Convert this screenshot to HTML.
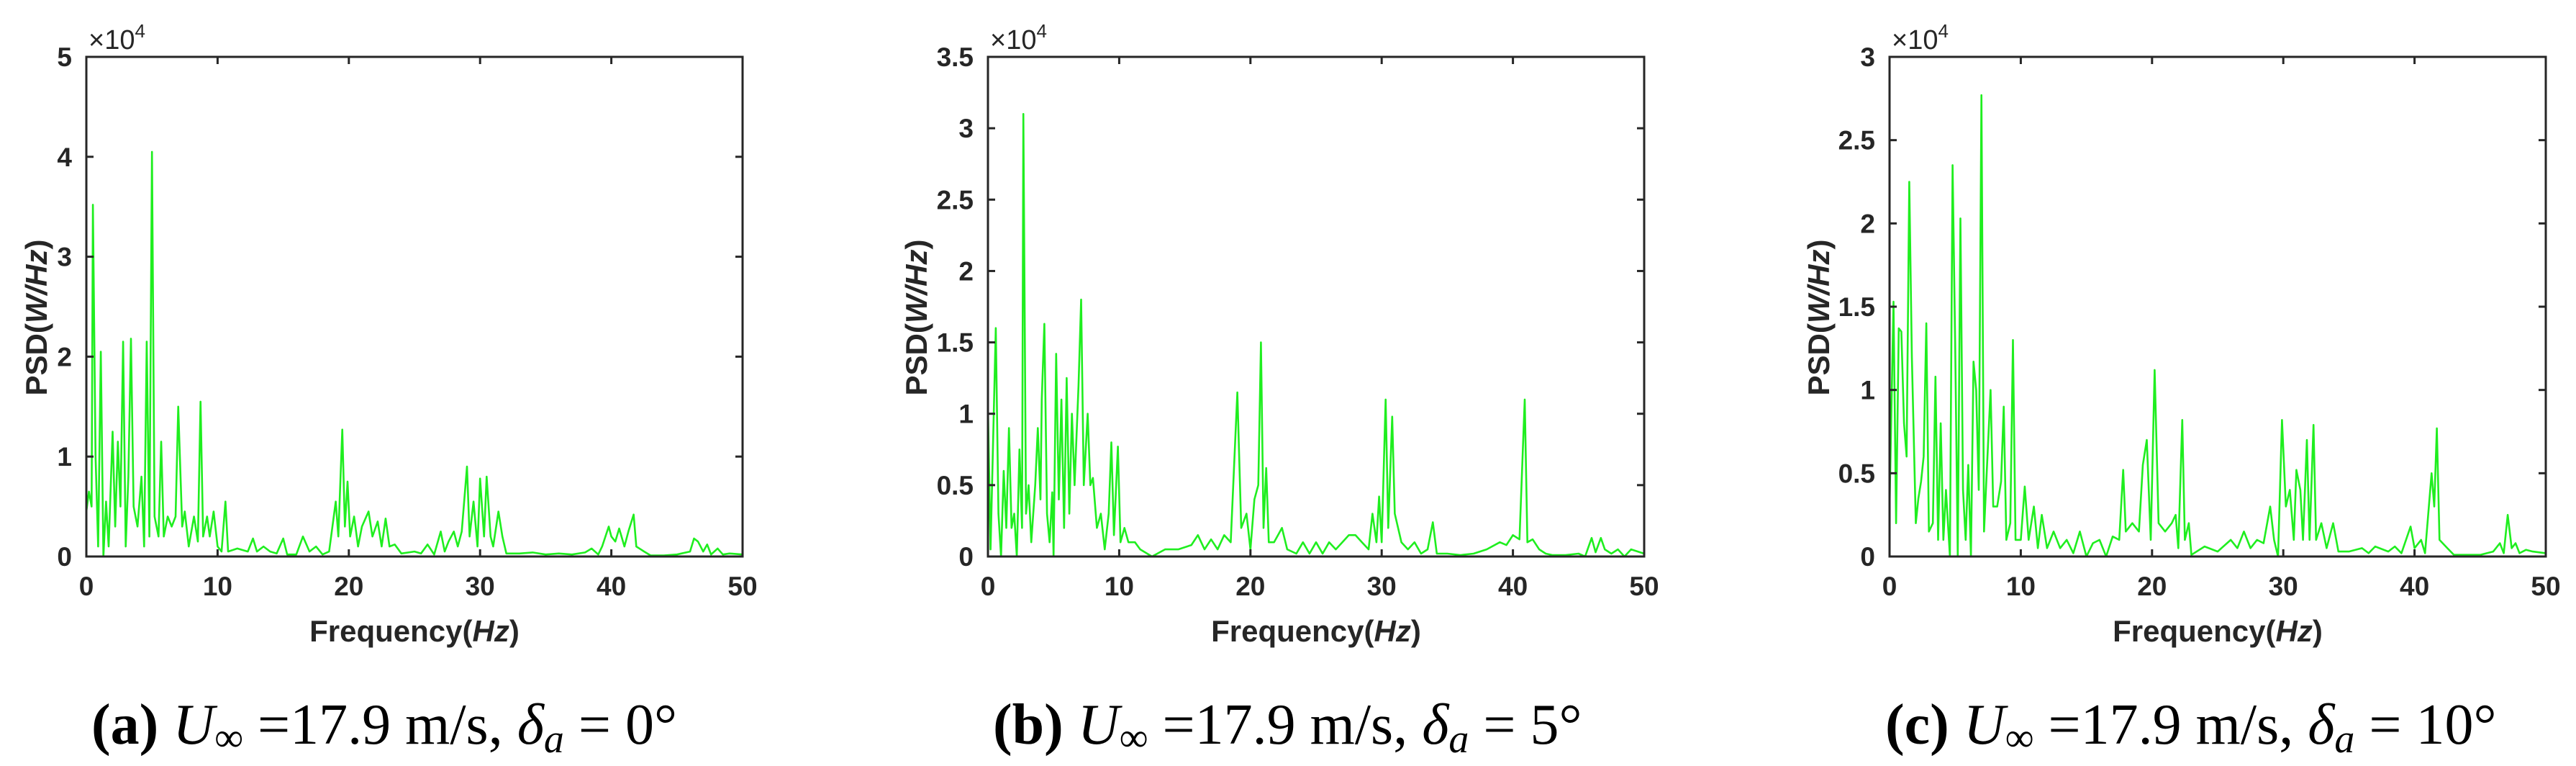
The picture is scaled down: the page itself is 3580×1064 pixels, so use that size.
<!DOCTYPE html>
<html><head><meta charset="utf-8"><style>
html,body{margin:0;padding:0;background:#fff}
svg{display:block}
.tk{font-family:"Liberation Sans",Arial,sans-serif;font-weight:bold;font-size:37px;fill:#262626}
.ttl{font-family:"Liberation Sans",Arial,sans-serif;font-weight:bold;font-size:42px;fill:#262626}
.exp{font-family:"Liberation Sans",Arial,sans-serif;font-size:38px;fill:#262626}
.cap{font-family:"Liberation Serif","Times New Roman",serif;font-size:80px;fill:#000}
</style></head><body>
<svg id="fig" width="3580" height="1064" viewBox="0 0 3580 1064" xmlns="http://www.w3.org/2000/svg"></svg>
<script>
// Panel (a) data, PSD in units of 1e4 W/Hz
const freqA=[0,0.2,0.4,0.5,0.7,0.9,1.1,1.3,1.5,1.7,2.0,2.2,2.4,2.6,2.8,3.0,3.2,3.4,3.6,3.9,4.2,4.4,4.6,4.8,5.0,5.2,5.5,5.7,5.9,6.2,6.5,6.8,7.0,7.3,7.5,7.8,8.2,8.5,8.7,8.9,9.2,9.4,9.7,10.0,10.3,10.6,10.8,11.5,12.3,12.7,13,13.5,14,14.5,15,15.3,16,16.5,17,17.5,18,18.5,19,19.2,19.5,19.7,19.9,20.1,20.4,20.7,21,21.5,21.8,22.2,22.5,22.8,23.1,23.5,24,25,25.5,26,26.5,27,27.3,27.6,28,28.3,28.6,29,29.2,29.5,29.8,30,30.3,30.5,30.8,31,31.4,31.7,32,33,34,35,36,37,38,38.5,39,39.3,39.8,40,40.3,40.6,41,41.3,41.7,41.9,42.5,43,44,45,46,46.3,46.6,47,47.3,47.6,48.1,48.5,49,50];
const psdA=[0.45,0.65,0.5,3.52,1.0,0.1,2.05,0.0,0.55,0.1,1.25,0.3,1.15,0.5,2.15,0.1,0.8,2.18,0.5,0.3,0.8,0.1,2.15,0.2,4.05,0.4,0.2,1.15,0.2,0.4,0.3,0.4,1.5,0.3,0.45,0.1,0.4,0.15,1.55,0.2,0.4,0.2,0.45,0.1,0.05,0.55,0.05,0.08,0.05,0.18,0.05,0.1,0.05,0.03,0.18,0.02,0.02,0.2,0.05,0.1,0.02,0.05,0.55,0.2,1.27,0.3,0.75,0.2,0.4,0.1,0.3,0.45,0.2,0.35,0.1,0.38,0.1,0.12,0.03,0.05,0.03,0.12,0.02,0.25,0.05,0.15,0.25,0.1,0.25,0.9,0.2,0.55,0.1,0.78,0.2,0.8,0.2,0.1,0.45,0.2,0.03,0.03,0.04,0.02,0.03,0.02,0.04,0.08,0.02,0.1,0.3,0.2,0.15,0.28,0.1,0.25,0.42,0.1,0.05,0.01,0.01,0.02,0.05,0.18,0.15,0.05,0.12,0.02,0.08,0.02,0.03,0.02];
// Panel (b)
const freqB=[0,0.2,0.6,0.8,1.0,1.2,1.4,1.6,1.8,2.0,2.2,2.4,2.6,2.7,2.9,3.1,3.3,3.6,3.8,4.0,4.1,4.3,4.5,4.7,4.9,5.0,5.2,5.4,5.6,5.8,6.0,6.2,6.4,6.6,6.9,7.1,7.3,7.6,7.8,8.0,8.3,8.6,8.9,9.2,9.4,9.6,9.9,10.1,10.4,10.7,11.2,11.6,12.5,13.5,14.5,15.5,16,16.5,17,17.5,18,18.5,19,19.3,19.7,20,20.3,20.6,20.8,21,21.2,21.4,21.8,22.4,22.8,23.5,24,24.5,25,25.5,26,26.5,27,27.5,28,28.5,29,29.3,29.6,29.8,30,30.3,30.5,30.8,31,31.5,32,32.5,33,33.5,33.9,34.2,35,36,37,38,39,39.5,40,40.5,40.9,41.1,41.5,42,42.5,43,44,45,45.5,46,46.3,46.7,47,47.5,48,48.5,49,50];
const psdB=[1.05,0.05,1.6,0.3,0.0,0.6,0.2,0.9,0.2,0.3,0.0,0.75,0.2,3.1,0.3,0.5,0.1,0.5,0.9,0.4,1.1,1.63,0.3,0.1,0.45,0.0,1.42,0.4,1.1,0.2,1.25,0.3,1.0,0.5,1.2,1.8,0.5,1.0,0.5,0.55,0.2,0.3,0.05,0.3,0.8,0.15,0.77,0.1,0.2,0.1,0.1,0.05,0.0,0.05,0.05,0.08,0.15,0.05,0.12,0.05,0.15,0.1,1.15,0.2,0.3,0.05,0.4,0.5,1.5,0.2,0.62,0.1,0.1,0.2,0.05,0.02,0.1,0.02,0.1,0.02,0.1,0.05,0.1,0.15,0.15,0.1,0.05,0.3,0.1,0.42,0.1,1.1,0.2,0.98,0.3,0.1,0.05,0.1,0.02,0.05,0.24,0.02,0.02,0.01,0.02,0.05,0.1,0.08,0.15,0.12,1.1,0.1,0.12,0.05,0.02,0.01,0.01,0.02,0.0,0.13,0.03,0.13,0.05,0.02,0.05,0.0,0.05,0.02];
// Panel (c)
const freqC=[0,0.3,0.5,0.7,0.9,1.1,1.3,1.5,1.7,2.0,2.2,2.4,2.6,2.8,3.0,3.3,3.5,3.7,3.9,4.1,4.3,4.6,4.8,5.0,5.2,5.4,5.6,5.8,6.0,6.2,6.4,6.6,6.8,7.0,7.2,7.4,7.7,7.9,8.2,8.5,8.7,8.9,9.2,9.4,9.6,10,10.3,10.6,11,11.3,11.6,12,12.5,13,13.5,14,14.5,15,15.5,16,16.5,17,17.5,17.8,18,18.5,19,19.3,19.6,19.9,20.2,20.5,21,21.5,21.8,22,22.3,22.5,22.8,23,24,25,26,26.5,27,27.5,28,28.5,29,29.3,29.6,29.9,30.2,30.5,30.8,31,31.3,31.5,31.8,32,32.3,32.5,32.9,33.3,33.8,34.2,35,36,36.5,37,38,38.5,39,39.7,40,40.5,40.8,41.3,41.5,41.7,41.9,42.5,43,45,46,46.5,46.8,47.1,47.4,47.7,48,48.5,49,50];
const psdC=[0.3,1.53,0.2,1.37,1.35,0.8,0.6,2.25,1.2,0.2,0.35,0.45,0.6,1.4,0.15,0.2,1.08,0.1,0.8,0.1,0.4,0.0,2.35,1.28,0.0,2.03,0.4,0.1,0.55,0.0,1.17,1.0,0.4,2.77,0.15,0.5,1.0,0.3,0.3,0.45,0.9,0.1,0.2,1.3,0.1,0.1,0.42,0.1,0.3,0.05,0.25,0.05,0.15,0.05,0.1,0.02,0.15,0.0,0.08,0.1,0.0,0.12,0.1,0.52,0.15,0.2,0.15,0.55,0.7,0.1,1.12,0.2,0.15,0.2,0.25,0.05,0.82,0.1,0.2,0.01,0.06,0.03,0.1,0.05,0.15,0.05,0.1,0.08,0.3,0.1,0.0,0.82,0.3,0.4,0.1,0.52,0.4,0.1,0.7,0.1,0.79,0.1,0.2,0.05,0.2,0.03,0.03,0.05,0.02,0.06,0.03,0.06,0.02,0.18,0.05,0.1,0.02,0.5,0.3,0.77,0.1,0.05,0.01,0.01,0.03,0.08,0.02,0.25,0.05,0.08,0.02,0.04,0.03,0.02];
const xTicks=[0,10,20,30,40,50];
const yTicksA=[0,1,2,3,4,5];
const yTicksB=[0,0.5,1,1.5,2,2.5,3,3.5];
const yTicksC=[0,0.5,1,1.5,2,2.5,3];
const yLabelsA=["0","1","2","3","4","5"];
const yLabelsB=["0","0.5","1","1.5","2","2.5","3","3.5"];
const yLabelsC=["0","0.5","1","1.5","2","2.5","3"];

const NS="http://www.w3.org/2000/svg";
const svg=document.getElementById('fig');
function mk(tag,attrs,parent){const e=document.createElementNS(NS,tag);for(const k in attrs)e.setAttribute(k,attrs[k]);(parent||svg).appendChild(e);return e;}

const panels=[
 {id:'a',left:120,freq:freqA,psd:psdA,ymax:5,yt:yTicksA,yl:yLabelsA,ytitleX:50,cap:'(a)',deg:'0',capX:127},
 {id:'b',left:1373,freq:freqB,psd:psdB,ymax:3.5,yt:yTicksB,yl:yLabelsB,ytitleX:1273,cap:'(b)',deg:'5',capX:1380},
 {id:'c',left:2626,freq:freqC,psd:psdC,ymax:3,yt:yTicksC,yl:yLabelsC,ytitleX:2527,cap:'(c)',deg:'10',capX:2620}
];
const W=912,TOP=79,BOT=773;
panels.forEach(p=>{
  const g=mk('g',{});
  
  
  const xs=v=>p.left+v/50*W;
  const ys=v=>BOT-v/p.ymax*(BOT-TOP);
  let d='';
  p.freq.forEach((f,i)=>{d+=(i?'L':'M')+xs(f).toFixed(1)+' '+ys(p.psd[i]).toFixed(1);});
  const line=mk('path',{d:d,fill:'none',stroke:'#1fee1f','stroke-width':2.6,'stroke-linejoin':'round'},g);
  
  
  const box=mk('rect',{x:p.left,y:TOP,width:W,height:BOT-TOP,fill:'none',stroke:'#262626','stroke-width':3},g);
  
  
  xTicks.forEach(t=>{
    const x=xs(t);
    mk('line',{x1:x,y1:BOT,x2:x,y2:BOT-10,stroke:'#262626','stroke-width':3},g);
    mk('line',{x1:x,y1:TOP,x2:x,y2:TOP+10,stroke:'#262626','stroke-width':3},g);
    const tx=mk('text',{x:x,y:827,'text-anchor':'middle',class:'tk'},g);
    tx.textContent=String(t);
    
    
  });
  p.yt.forEach((t,i)=>{
    const y=ys(t);
    mk('line',{x1:p.left,y1:y,x2:p.left+10,y2:y,stroke:'#262626','stroke-width':3},g);
    mk('line',{x1:p.left+W,y1:y,x2:p.left+W-10,y2:y,stroke:'#262626','stroke-width':3},g);
    const tx=mk('text',{x:p.left-20,y:y+13,'text-anchor':'end',class:'tk'},g);
    tx.textContent=p.yl[i];
    
    
  });
  const ex=mk('text',{x:p.left+3,y:68,class:'exp'},g);
  ex.innerHTML='×10<tspan dy="-16" font-size="26">4</tspan>';
  
  
  const xt=mk('text',{x:p.left+W/2,y:891,'text-anchor':'middle',class:'ttl'},g);
  xt.innerHTML='Frequency(<tspan font-style="italic">Hz</tspan>)';
  
  
  const yt=mk('text',{x:p.ytitleX,y:(TOP+BOT)/2,'text-anchor':'middle',class:'ttl',transform:'rotate(-90 '+(p.ytitleX+15)+' '+((TOP+BOT)/2)+')'},g);
  yt.innerHTML='PSD(<tspan font-style="italic">W/Hz</tspan>)';
  
  
  const cp=mk('text',{x:p.capX,y:1033,class:'cap'},g);
  cp.innerHTML='<tspan font-weight="bold">'+p.cap+'</tspan> <tspan font-style="italic">U</tspan><tspan font-size="56" dy="10">∞</tspan><tspan dy="-10"> =17.9 m/s, </tspan><tspan font-style="italic">δ</tspan><tspan font-style="italic" font-size="56" dy="12">a</tspan><tspan dy="-12"> = '+p.deg+'°</tspan>';
  
  
});
</script>
</body></html>
